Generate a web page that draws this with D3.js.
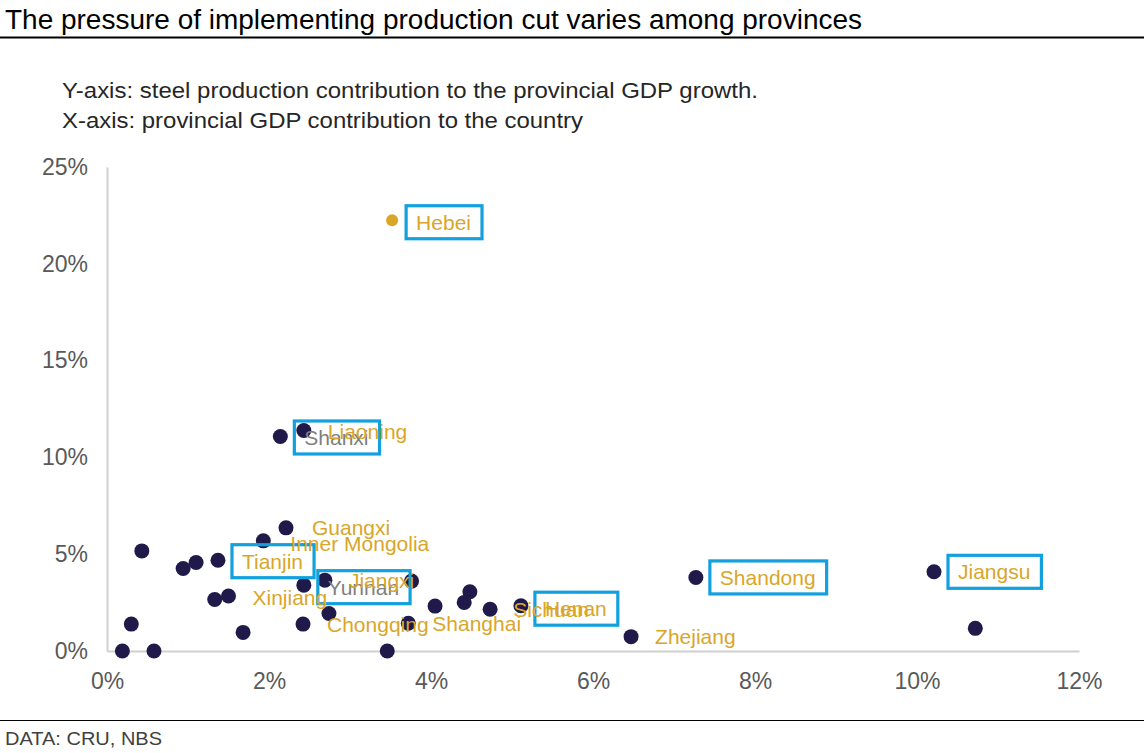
<!DOCTYPE html>
<html>
<head>
<meta charset="utf-8">
<script src="https://cdn.jsdelivr.net/npm/d3@7/dist/d3.min.js"></script>
<style>
  html, body { margin: 0; padding: 0; background: #fff; }
  svg { display: block; font-family: Arial, "Liberation Sans", Helvetica, sans-serif; }
</style>
</head>
<body>
<svg id="chart" width="1144" height="753"></svg>
<script>
// ---------------- DATA ----------------
// X: provincial GDP contribution to the country (%)
const gdpShare = [0.43, 0.94, 1.10, 1.37, 1.93, 2.21, 1.33, 1.50, 0.30, 0.19, 0.58,
                  1.68, 2.42, 2.43, 2.69, 2.74, 3.76, 4.05, 3.72, 3.46, 4.48, 4.41,
                  4.73, 5.11, 6.47, 7.27, 10.21, 10.72, 3.52, 2.14, 2.43];
// Y: steel production contribution to the provincial GDP growth (%)
const steelContribution = [5.17, 4.26, 4.57, 4.69, 5.69, 6.36, 2.66, 2.84, 1.39, 0, 0,
                           0.96, 1.39, 3.40, 3.66, 1.94, 3.61, 2.32, 1.43, 0, 3.06, 2.51,
                           2.16, 2.34, 0.74, 3.80, 4.09, 1.17, 22.25, 11.08, 11.39];
// Province labels (null = point without a label in the chart)
const provinceNames = [null, null, null, "Tianjin", "Inner Mongolia", "Guangxi", null, "Xinjiang", null, null, null,
                       null, "Chongqing", "Yunnan", "Jiangxi", null, null, null, "Shanghai", null, null, null,
                       "Sichuan", "Henan", "Zhejiang", "Shandong", "Jiangsu", null, "Hebei", "Shanxi", "Liaoning"];
const xTicks = [0, 2, 4, 6, 8, 10, 12];
const yTicks = [0, 5, 10, 15, 20, 25];
const boxedProvinces = ["Hebei", "Shanxi", "Tianjin", "Yunnan", "Henan", "Shandong", "Jiangsu"];
const greyLabelProvinces = ["Shanxi", "Yunnan"];
const highlightProvince = "Hebei";

// ---------------- LAYOUT / STYLE ----------------
const W = 1144, H = 753;
const plot = { left: 107, right: 1079, top: 167, bottom: 651 };
const labelDx = 24;
const labelDyAdjust = { "Hebei": 2, "Shanxi": 1, "Tianjin": 1, "Inner Mongolia": 3, "Xinjiang": 1,
                        "Yunnan": 2, "Jiangxi": 0, "Henan": 3, "Sichuan": 0, "Liaoning": 1 };
const labelDxAdjust = { "Jiangxi": 0, "Sichuan": -1, "Inner Mongolia": 3, "Guangxi": 2 };
const gold = "#D9A62A", grey = "#7F7F7F", navy = "#201A4B", blue = "#13A0DE";

const svg = d3.select("#chart");

// Title
svg.append("text").attr("x", 5).attr("y", 29)
  .attr("font-size", 27).attr("fill", "#000")
  .attr("textLength", 857).attr("lengthAdjust", "spacingAndGlyphs")
  .text("The pressure of implementing production cut varies among provinces");
svg.append("line").attr("x1", 0).attr("x2", W).attr("y1", 37.5).attr("y2", 37.5)
  .attr("stroke", "#000").attr("stroke-width", 2);

// Subtitle
svg.append("text").attr("x", 62).attr("y", 98)
  .attr("font-size", 22).attr("fill", "#262626")
  .attr("textLength", 696).attr("lengthAdjust", "spacingAndGlyphs")
  .text("Y-axis:  steel production contribution to the provincial GDP growth.");
svg.append("text").attr("x", 62).attr("y", 128)
  .attr("font-size", 22).attr("fill", "#262626")
  .attr("textLength", 521).attr("lengthAdjust", "spacingAndGlyphs")
  .text("X-axis:  provincial GDP contribution to the country");

// Footer
svg.append("line").attr("x1", 0).attr("x2", W).attr("y1", 720.5).attr("y2", 720.5)
  .attr("stroke", "#000").attr("stroke-width", 1.2);
svg.append("text").attr("x", 5).attr("y", 745)
  .attr("font-size", 18).attr("fill", "#404040")
  .attr("textLength", 157).attr("lengthAdjust", "spacingAndGlyphs")
  .text("DATA: CRU, NBS");

// Scales
const x = d3.scaleLinear().domain([0, 12]).range([plot.left, plot.right]);
const y = d3.scaleLinear().domain([0, 25]).range([plot.bottom, plot.top]);

// Axes
const fmt = d => d + "%";
const xAxis = svg.append("g").attr("transform", `translate(0,${plot.bottom})`)
  .call(d3.axisBottom(x).tickValues(xTicks).tickFormat(fmt).tickSize(0).tickPadding(22));
const yAxis = svg.append("g").attr("transform", `translate(${plot.left},0)`)
  .call(d3.axisLeft(y).tickValues(yTicks).tickFormat(fmt).tickSize(0).tickPadding(19));
[xAxis, yAxis].forEach(g => {
  g.select(".domain").attr("stroke", "#D0D0D0").attr("stroke-width", 2);
  g.selectAll("text").attr("font-size", 23).attr("fill", "#595959")
    .attr("font-family", "Arial, 'Liberation Sans', sans-serif");
});

// Data rows
const rows = gdpShare.map((g, i) => ({ gx: g, sy: steelContribution[i], name: provinceNames[i] }));

// Dots
svg.append("g").selectAll("circle").data(rows).join("circle")
  .attr("cx", d => x(d.gx)).attr("cy", d => y(d.sy))
  .attr("r", d => d.name === highlightProvince ? 6 : 7.5)
  .attr("fill", d => d.name === highlightProvince ? gold : navy);

// Labels
const lab = svg.append("g");
rows.filter(d => d.name).forEach(d => {
  const tx = x(d.gx) + labelDx + (labelDxAdjust[d.name] || 0);
  const ty = y(d.sy) + (labelDyAdjust[d.name] || 0);
  const t = lab.append("text").attr("x", tx).attr("y", ty + 7.5)
    .attr("font-size", 21)
    .attr("fill", greyLabelProvinces.includes(d.name) ? grey : gold)
    .text(d.name);
  if (boxedProvinces.includes(d.name)) {
    const bb = t.node().getBBox();
    lab.insert("rect", "text")
      .attr("x", bb.x - 10).attr("y", ty - 16.5)
      .attr("width", bb.width + 21).attr("height", 33)
      .attr("fill", "none").attr("stroke", blue).attr("stroke-width", 3.2);
  }
});
</script>
</body>
</html>
